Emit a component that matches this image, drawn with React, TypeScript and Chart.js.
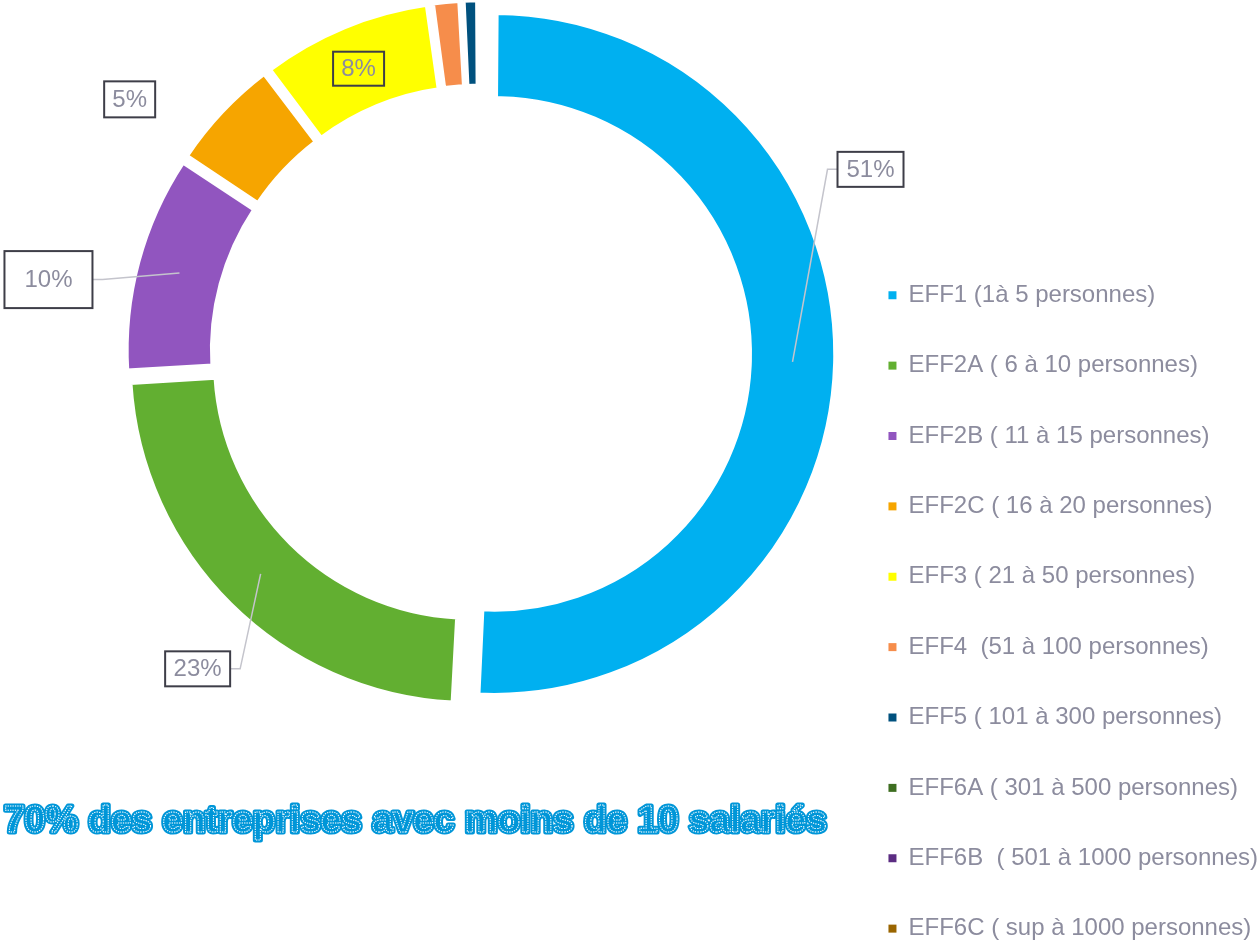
import React, { useEffect, useRef } from 'react';
import { Chart, registerables } from 'chart.js';

Chart.register(...registerables);

// ---------- data ----------
const categories = [
  'EFF1 (1à 5 personnes)',
  'EFF2A ( 6 à 10 personnes)',
  'EFF2B ( 11 à 15 personnes)',
  'EFF2C ( 16 à 20 personnes)',
  'EFF3 ( 21 à 50 personnes)',
  'EFF4  (51 à 100 personnes)',
  'EFF5 ( 101 à 300 personnes)',
  'EFF6A ( 301 à 500 personnes)',
  'EFF6B  ( 501 à 1000 personnes)',
  'EFF6C ( sup à 1000 personnes)',
];
const shares = [50.9, 23.2, 10.3, 5.4, 8.1, 1.4, 0.8, 0, 0, 0];
const headline = '70% des entreprises avec moins de 10 salariés';

// ---------- styles / layout ----------
const colors = ['#00B0F0', '#62AF31', '#9155BF', '#F6A500', '#FFFF00', '#F68D4B', '#00517E', '#3E6E21', '#5B2C82', '#9A6500'];
const explode = [60, 48, 48, 48, 48, 48, 48, 48, 48, 48];
// callout box placement relative to the slice anchor (mid-ring point)
const calloutLayout: ({ dx: number; dy: number; w: number; h: number; line: boolean } | null)[] = [
  { dx: 78, dy: -192.5, w: 66, h: 35, line: true },
  { dx: -63, dy: 95, w: 65, h: 35, line: true },
  { dx: -131, dy: 6.5, w: 88, h: 57, line: true },
  { dx: -123.5, dy: -41.5, w: 51, h: 36, line: false },
  { dx: -2, dy: 2, w: 51, h: 34, line: false },
  null, null, null, null, null,
];

const FONT = '"Liberation Sans", Arial, sans-serif';
const TEXT_GRAY = '#8C8C9E';
const BLUE = '#0096D8';
const SHIFT_Y = 280;
const CANVAS_W = 1268;
const CANVAS_H = 1267;

const explodeFix = {
  id: 'explodeFix',
  afterDatasetUpdate(chart: any, args: any) {
    const meta = args.meta;
    meta.data.forEach((el: any, i: number) => {
      const off = (explode[i] || 0) / 4;
      const circ = el.endAngle - el.startAngle;
      const ro = off * (1 - Math.sin(Math.min(Math.PI, circ)));
      el.outerRadius -= ro;
      el.innerRadius -= ro;
    });
  },
};

const callouts = {
  id: 'callouts',
  afterDatasetsDraw(chart: any) {
    const meta = chart.getDatasetMeta(0);
    const ctx = chart.ctx;
    const total = shares.reduce((a, b) => a + b, 0);
    meta.data.forEach((el: any, i: number) => {
      const lay = calloutLayout[i];
      if (!lay) return;
      const off = (explode[i] || 0) / 4;
      const circ = el.endAngle - el.startAngle;
      const ro = off * (1 - Math.sin(Math.min(Math.PI, circ)));
      const ha = (el.startAngle + el.endAngle) / 2;
      const cx = el.x + Math.cos(ha) * off;
      const cy = el.y + Math.sin(ha) * off;
      const rMid = (el.innerRadius + el.outerRadius) / 2 + ro;
      const ax = cx + Math.cos(ha) * rMid;
      const ay = cy + Math.sin(ha) * rMid;
      const bx = ax + lay.dx;
      const by = ay + lay.dy;
      ctx.save();
      if (lay.line) {
        const right = ax > bx;
        const edge = right ? bx + lay.w / 2 : bx - lay.w / 2;
        const elbow = right ? edge + 10 : edge - 10;
        ctx.strokeStyle = '#C4C4CC';
        ctx.lineWidth = 1.5;
        ctx.beginPath();
        ctx.moveTo(ax, ay);
        ctx.lineTo(elbow, by);
        ctx.lineTo(edge, by);
        ctx.stroke();
      }
      ctx.strokeStyle = '#3E3E48';
      ctx.lineWidth = 2;
      ctx.strokeRect(bx - lay.w / 2, by - lay.h / 2, lay.w, lay.h);
      ctx.fillStyle = TEXT_GRAY;
      ctx.font = `24px ${FONT}`;
      ctx.textAlign = 'center';
      ctx.textBaseline = 'middle';
      ctx.fillText(Math.round((shares[i] / total) * 100) + '%', bx, by + 1);
      ctx.restore();
    });
  },
};

const headlinePlugin = {
  id: 'headline',
  afterDraw(chart: any) {
    const ctx = chart.ctx;
    const x = 4;
    const y = 832 + SHIFT_Y;
    ctx.save();
    ctx.font = `bold 37px ${FONT}`;
    ctx.textAlign = 'left';
    ctx.textBaseline = 'alphabetic';
    ctx.lineJoin = 'round';
    ctx.strokeStyle = BLUE;
    ctx.lineWidth = 5;
    ctx.strokeText(headline, x, y);
    ctx.fillStyle = BLUE;
    ctx.fillText(headline, x, y);
    ctx.setLineDash([1.2, 1.2]);
    ctx.strokeStyle = '#ffffff';
    ctx.lineWidth = 1;
    ctx.strokeText(headline, x, y);
    ctx.restore();
  },
};

export default function App() {
  const ref = useRef<HTMLCanvasElement>(null);
  useEffect(() => {
    const baseGen = (Chart as any).overrides.doughnut.plugins.legend.labels.generateLabels;
    const chart = new Chart(ref.current as HTMLCanvasElement, {
      type: 'doughnut',
      data: {
        labels: categories,
        datasets: [
          {
            data: shares,
            backgroundColor: colors,
            borderColor: '#ffffff',
            borderWidth: 4,
            offset: explode,
            hoverOffset: 0,
            radius: 341,
            cutout: '75%',
          } as any,
        ],
      },
      options: {
        responsive: false,
        animation: false,
        events: [],
        layout: { padding: { left: 116.4, top: 0, right: 0, bottom: 0 } },
        plugins: {
          legend: {
            position: 'right',
            align: 'end',
            labels: {
              boxWidth: 8,
              boxHeight: 8,
              padding: 46.375,
              color: TEXT_GRAY,
              font: { size: 24, family: FONT },
              generateLabels: (c: any) =>
                baseGen(c).map((it: any) => ({ ...it, lineWidth: 0, strokeStyle: 'rgba(0,0,0,0)' })),
            },
          },
          tooltip: { enabled: false },
        },
      } as any,
      plugins: [explodeFix, callouts, headlinePlugin],
    });
    return () => chart.destroy();
  }, []);

  return (
    <div style={{ position: 'fixed', left: 0, top: 0, width: 1257, height: 942, overflow: 'hidden', background: '#ffffff' }}>
      <canvas
        ref={ref}
        width={CANVAS_W}
        height={CANVAS_H}
        style={{ position: 'absolute', left: 0, top: -SHIFT_Y, width: CANVAS_W, height: CANVAS_H }}
      />
    </div>
  );
}
